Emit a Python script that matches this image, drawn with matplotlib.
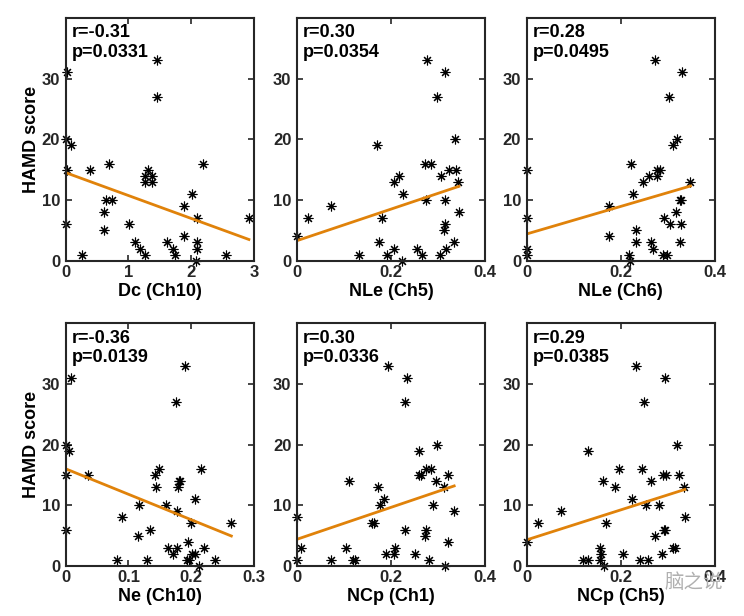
import matplotlib
matplotlib.use('Agg')
import matplotlib.pyplot as plt
import numpy as np

plt.rcParams['font.family'] = ['Liberation Sans', 'DejaVu Sans']
plt.rcParams['font.weight'] = 'bold'

# HAMD scores vs. six fNIRS features
dc_ch10 = [0.02, 1.46, 1.46, 0.0, 0.08, 0.02, 0.38, 0.69, 1.31, 1.27, 1.38, 1.27, 1.37,
           2.19, 0.65, 0.74, 2.01, 0.61, 1.89, 0.0, 0.61, 1.01, 2.09, 2.92, 1.89, 1.10,
           1.62, 1.18, 1.71, 1.26, 1.74, 0.26, 2.09, 2.09, 2.07, 2.55]
hamd_dc_ch10 = [31, 33, 27, 20, 19, 15, 15, 16, 15, 14, 14, 13, 13,
                16, 10, 10, 11, 8, 9, 6, 5, 6, 7, 7, 4, 3,
                3, 2, 2, 1, 1, 1, 3, 2, 0, 1]

nle_ch5 = [0.277, 0.315, 0.298, 0.335, 0.169, 0.272, 0.284, 0.322, 0.337, 0.216, 0.307,
           0.207, 0.343, 0.225, 0.275, 0.315, 0.073, 0.180, 0.024, 0.344, 0.315, 0.312,
           0.174, 0.334, 0.317, 0.207, 0.255, 0.131, 0.191, 0.266, 0.304, 0.223, 0.0]
hamd_nle_ch5 = [33, 31, 27, 20, 19, 16, 16, 15, 15, 14, 14,
                13, 13, 11, 10, 10, 9, 7, 7, 8, 6, 5,
                3, 3, 2, 2, 2, 1, 1, 1, 1, 0, 4]

nle_ch6 = [0.272, 0.331, 0.302, 0.320, 0.312, 0.222, 0.0, 0.278, 0.284, 0.261, 0.278,
           0.247, 0.348, 0.225, 0.325, 0.329, 0.174, 0.318, 0.0, 0.291, 0.304, 0.329,
           0.233, 0.175, 0.232, 0.265, 0.325, 0.0, 0.269, 0.218, 0.0, 0.290, 0.298, 0.220]
hamd_nle_ch6 = [33, 31, 27, 20, 19, 16, 15, 15, 15, 14, 14,
                13, 13, 11, 10, 10, 9, 8, 7, 7, 6, 6,
                5, 4, 3, 3, 3, 2, 2, 1, 1, 1, 1, 0]

ne_ch10 = [0.190, 0.009, 0.176, 0.0, 0.006, 0.149, 0.215, 0.0, 0.036, 0.142, 0.181,
           0.182, 0.144, 0.179, 0.206, 0.117, 0.160, 0.177, 0.090, 0.199, 0.264, 0.0,
           0.134, 0.115, 0.195, 0.163, 0.178, 0.221, 0.171, 0.202, 0.206, 0.082, 0.130,
           0.193, 0.197, 0.238, 0.213]
hamd_ne_ch10 = [33, 31, 27, 20, 19, 16, 16, 15, 15, 15, 14,
                14, 13, 13, 11, 10, 10, 9, 8, 7, 7, 6,
                6, 5, 4, 3, 3, 3, 2, 2, 2, 1, 1,
                1, 1, 1, 0]

ncp_ch1 = [0.193, 0.234, 0.229, 0.297, 0.260, 0.274, 0.285, 0.259, 0.264, 0.320, 0.110,
           0.295, 0.172, 0.312, 0.184, 0.177, 0.288, 0.334, 0.159, 0.164, 0.229, 0.275,
           0.272, 0.320, 0.008, 0.105, 0.209, 0.189, 0.206, 0.250, 0.072, 0.120, 0.124,
           0.281, 0.314, 0.0, 0.0]
hamd_ncp_ch1 = [33, 31, 27, 20, 19, 16, 16, 15, 15, 15, 14,
                14, 13, 13, 11, 10, 10, 9, 7, 7, 6, 6,
                5, 4, 3, 3, 3, 2, 2, 2, 1, 1, 1,
                1, 0, 8, 1]

ncp_ch5 = [0.232, 0.295, 0.250, 0.319, 0.131, 0.196, 0.245, 0.290, 0.297, 0.324, 0.162,
           0.265, 0.188, 0.334, 0.223, 0.254, 0.282, 0.073, 0.336, 0.025, 0.168, 0.291,
           0.295, 0.273, 0.0, 0.155, 0.312, 0.316, 0.159, 0.204, 0.287, 0.120, 0.130,
           0.155, 0.241, 0.257, 0.165]
hamd_ncp_ch5 = [33, 31, 27, 20, 19, 16, 16, 15, 15, 15, 14,
                14, 13, 13, 11, 10, 10, 9, 8, 7, 7, 6,
                6, 5, 4, 3, 3, 3, 2, 2, 2, 1, 1,
                1, 1, 1, 0]

x_labels = ['Dc (Ch10)', 'NLe (Ch5)', 'NLe (Ch6)', 'Ne (Ch10)', 'NCp (Ch1)', 'NCp (Ch5)']
r_values = ['-0.31', '0.30', '0.28', '-0.36', '0.30', '0.29']
p_values = ['0.0331', '0.0354', '0.0495', '0.0139', '0.0336', '0.0385']
fit_intercept = [14.5, 3.3, 4.4, 16.0, 4.4, 4.3]
fit_slope = [-3.77, 26.0, 22.7, -41.9, 26.3, 24.7]
x_limits = [3, 0.4, 0.4, 0.3, 0.4, 0.4]
x_ticks = [[0, 1, 2, 3], [0, 0.2, 0.4], [0, 0.2, 0.4],
           [0, 0.1, 0.2, 0.3], [0, 0.2, 0.4], [0, 0.2, 0.4]]

xs = [dc_ch10, nle_ch5, nle_ch6, ne_ch10, ncp_ch1, ncp_ch5]
ys = [hamd_dc_ch10, hamd_nle_ch5, hamd_nle_ch6, hamd_ne_ch10, hamd_ncp_ch1, hamd_ncp_ch5]

fig = plt.figure(figsize=(7.44, 6.16), dpi=100)
lefts = [0.0883, 0.3992, 0.7079]
bottoms = [0.5768, 0.0812]
axis_col = '#262626'

for i in range(6):
    ax = fig.add_axes([lefts[i % 3], bottoms[i // 3], 0.253, 0.3943])
    x = np.asarray(xs[i])
    y = np.asarray(ys[i])
    ax.plot(x, y, linestyle='none', marker=(8, 2, 0), markersize=7,
            markeredgewidth=0.8, color='black', clip_on=False, zorder=3)
    xx = np.array([x.min(), x.max()])
    ax.plot(xx, fit_intercept[i] + fit_slope[i] * xx, color='#E0820A', linewidth=2,
            zorder=4)

    ax.set_xlim(0, x_limits[i])
    ax.set_ylim(0, 40)
    ax.set_xticks(x_ticks[i])
    ax.set_xticklabels([('%g' % t) for t in x_ticks[i]])
    ax.set_yticks([0, 10, 20, 30])
    ax.tick_params(direction='in', top=True, right=True, length=4, width=1.2,
                   labelsize=12, colors=axis_col)
    ax.tick_params(axis='y', pad=4)
    ax.tick_params(axis='x', pad=3)
    for lab in ax.get_xticklabels() + ax.get_yticklabels():
        lab.set_fontweight('bold')
    for sp in ax.spines.values():
        sp.set_linewidth(1.5)
        sp.set_color(axis_col)
        sp.set_zorder(5)

    ax.set_xlabel(x_labels[i], fontsize=13, fontweight='bold', color='black', labelpad=2)
    if i % 3 == 0:
        ax.set_ylabel('HAMD score', fontsize=13, fontweight='bold', color='black', labelpad=1)
    ax.text(0.03, 0.919, 'r=%s' % r_values[i], transform=ax.transAxes,
            ha='left', va='baseline', fontsize=13, fontweight='bold')
    ax.text(0.03, 0.840, 'p=%s' % p_values[i], transform=ax.transAxes,
            ha='left', va='baseline', fontsize=13, fontweight='bold')

fig.text(0.933, 0.055, '脑之说', ha='center', va='center', fontsize=14, color='#b0b0b0',
         family=['Noto Sans CJK SC', 'DejaVu Sans'], fontweight='normal', zorder=10)

fig.savefig('out.png', dpi=100)
